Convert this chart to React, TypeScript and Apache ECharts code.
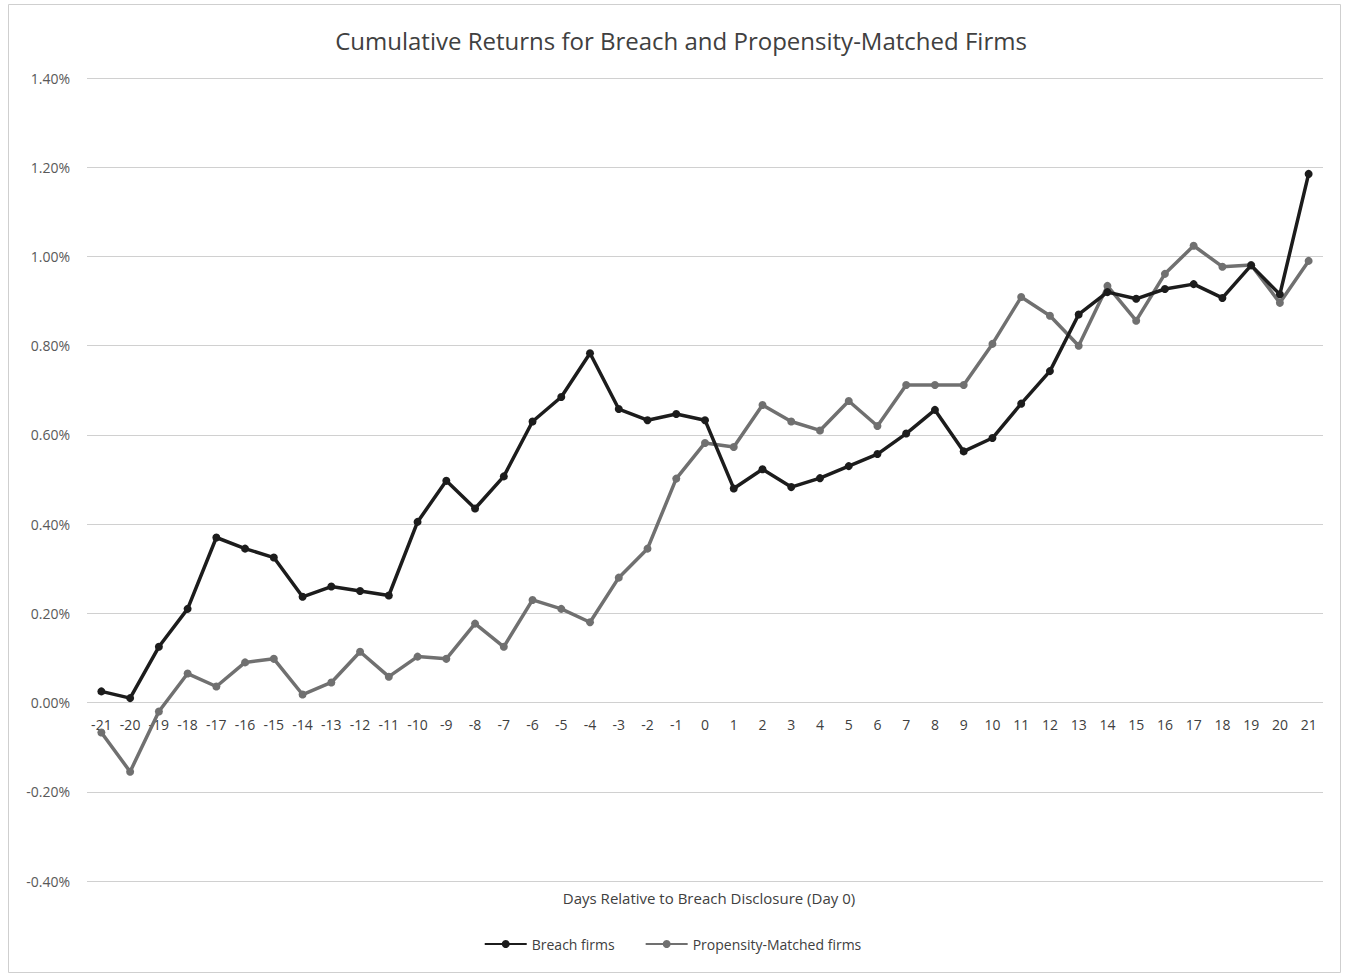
import React, { useEffect, useRef } from "react";
import * as echarts from "echarts";

const days: string[] = [
  "-21","-20","-19","-18","-17","-16","-15","-14","-13","-12","-11","-10","-9","-8","-7","-6","-5","-4","-3","-2","-1",
  "0","1","2","3","4","5","6","7","8","9","10","11","12","13","14","15","16","17","18","19","20","21",
];

const breachFirms: number[] = [
  0.025, 0.01, 0.125, 0.21, 0.37, 0.345, 0.325, 0.237, 0.26, 0.25, 0.24, 0.405, 0.497, 0.435, 0.507, 0.63, 0.685, 0.783,
  0.658, 0.633, 0.647, 0.633, 0.48, 0.523, 0.483, 0.503, 0.53, 0.557, 0.603, 0.656, 0.563, 0.593, 0.67, 0.743, 0.87,
  0.92, 0.905, 0.927, 0.938, 0.907, 0.98, 0.915, 1.185,
];

const matchedFirms: number[] = [
  -0.067, -0.155, -0.02, 0.065, 0.036, 0.09, 0.098, 0.018, 0.045, 0.114, 0.058, 0.103, 0.098, 0.177, 0.125, 0.23, 0.21,
  0.18, 0.28, 0.345, 0.502, 0.582, 0.573, 0.667, 0.63, 0.61, 0.676, 0.62, 0.712, 0.712, 0.712, 0.804, 0.909, 0.867, 0.8,
  0.934, 0.856, 0.961, 1.024, 0.977, 0.981, 0.896, 0.99,
];

const FONT = "'Open Sans', Lato, sans-serif";

export default function App() {
  const ref = useRef<HTMLDivElement>(null);
  useEffect(() => {
    if (!ref.current) return;
    const chart = echarts.init(ref.current, undefined, { renderer: "svg" });
    chart.setOption({
      animation: false,
      backgroundColor: "#ffffff",
      textStyle: { fontFamily: FONT },
      graphic: [
        {
          type: "rect",
          shape: { x: 8.5, y: 4.5, width: 1332, height: 968 },
          style: { fill: "none", stroke: "#cfcfcf", lineWidth: 1 },
          silent: true,
        },
      ],
      title: [
        {
          text: "Cumulative Returns for Breach and Propensity-Matched Firms",
          left: 676,
          textAlign: "center",
          top: 23,
          textStyle: { fontSize: 24, fontWeight: "normal", color: "#404040", fontFamily: FONT },
        },
        {
          text: "Days Relative to Breach Disclosure (Day 0)",
          left: 704,
          textAlign: "center",
          top: 885,
          textStyle: { fontSize: 15, fontWeight: "normal", color: "#404040", fontFamily: FONT },
        },
      ],
      legend: {
        bottom: 19,
        left: "center",
        itemWidth: 42,
        itemHeight: 10,
        itemGap: 30,
        textStyle: { fontSize: 14, color: "#404040", fontFamily: FONT },
        data: ["Breach firms", "Propensity-Matched firms"],
      },
      grid: { left: 87, right: 22, top: 78, bottom: 94 },
      xAxis: {
        type: "category",
        data: days,
        boundaryGap: true,
        axisLine: { show: false },
        axisTick: { show: false },
        axisLabel: { interval: 0, fontSize: 14, color: "#404040", margin: -164, fontFamily: FONT },
        splitLine: { show: false },
      },
      yAxis: {
        type: "value",
        min: -0.4,
        max: 1.4,
        interval: 0.2,
        axisLine: { show: false },
        axisTick: { show: false },
        axisLabel: {
          fontSize: 14,
          color: "#595959",
          margin: 17,
          fontFamily: FONT,
          formatter: (v: number) => v.toFixed(2) + "%",
        },
        splitLine: { lineStyle: { color: "#d0d0d0", width: 1 } },
      },
      series: [
        {
          name: "Breach firms",
          type: "line",
          data: breachFirms,
          symbol: "circle",
          symbolSize: 8,
          z: 3,
          lineStyle: { color: "#1c1c1c", width: 3.5 },
          itemStyle: { color: "#1c1c1c" },
        },
        {
          name: "Propensity-Matched firms",
          type: "line",
          data: matchedFirms,
          symbol: "circle",
          symbolSize: 8,
          z: 2,
          lineStyle: { color: "#707070", width: 3.5 },
          itemStyle: { color: "#707070" },
        },
      ],
    });
    return () => chart.dispose();
  }, []);
  return (
    <div
      ref={ref}
      style={{ position: "absolute", left: 0, top: 0, width: 1345, height: 975 }}
    />
  );
}
